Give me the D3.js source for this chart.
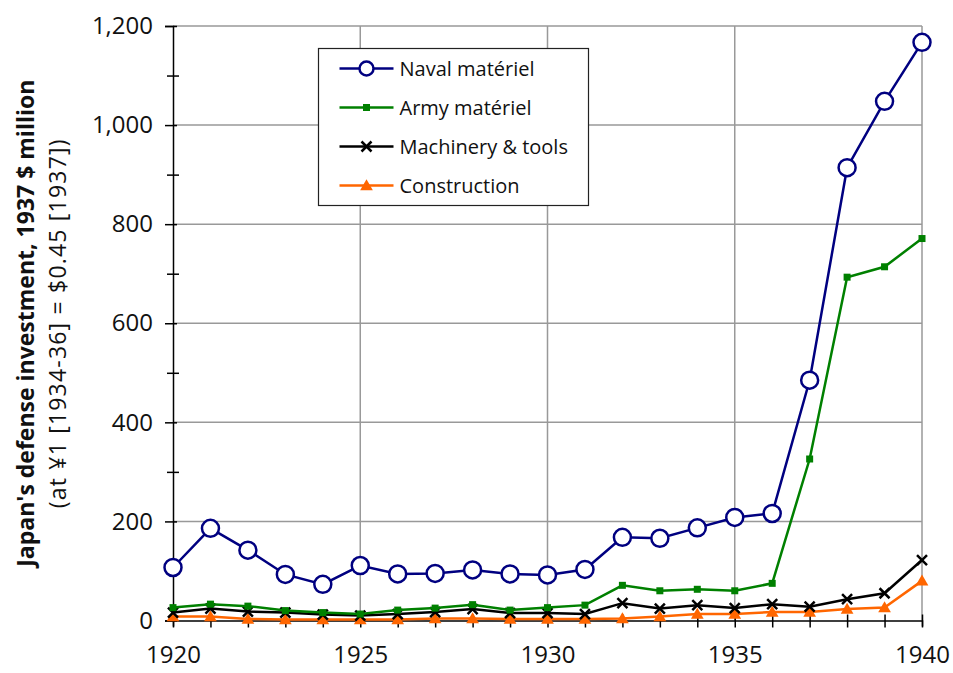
<!DOCTYPE html>
<html>
<head>
<meta charset="utf-8">
<script src="https://cdn.jsdelivr.net/npm/d3@7"></script>
<style>
  body { margin: 0; background: #fff; }
  svg text { font-family: "Open Sans", "Lato", sans-serif; fill: #111; }
</style>
</head>
<body>
<div id="chart"></div>
<script>
/* CONSTANTS AND GLOBALS */
const width = 953,
  height = 673,
  margin = { top: 26, bottom: 52, left: 173, right: 31 };

// years on the x axis
const years = d3.range(1920, 1941);
const xTicks = [1920, 1925, 1930, 1935, 1940];
const yTicks = [0, 200, 400, 600, 800, 1000, 1200];

// values, 1937 $ million
const naval = [107, 186, 142, 93, 73, 111, 94, 95, 102, 94, 92, 103, 168, 166, 187, 208, 216, 485, 914, 1048, 1167];
const army = [26, 33, 29, 20, 16, 13, 21, 25, 32, 21, 26, 31, 71, 60, 63, 60, 75, 326, 693, 714, 771];
const machinery = [16, 24, 18, 16, 12, 10, 13, 17, 23, 15, 15, 13, 35, 24, 31, 25, 33, 28, 43, 55, 122];
const construction = [8, 8, 3, 2, 2, 2, 2, 4, 4, 3, 3, 3, 4, 8, 13, 13, 17, 17, 23, 26, 80];

const seriesNames = ["Naval matériel", "Army matériel", "Machinery & tools", "Construction"];
const seriesColors = ["#000080", "#008000", "#000000", "#ff6600"];
const seriesMarks = ["circle", "square", "cross", "triangle"];
const seriesValues = [naval, army, machinery, construction];

const series = seriesNames.map((name, i) => ({
  name: name,
  color: seriesColors[i],
  mark: seriesMarks[i],
  values: years.map((y, j) => ({ year: y, value: seriesValues[i][j] }))
}));

const svg = d3.select("#chart")
  .append("svg")
  .attr("width", width)
  .attr("height", height);

// + SCALES
const xScale = d3.scaleLinear()
  .domain([1920, 1940])
  .range([margin.left, width - margin.right]);

const yScale = d3.scaleLinear()
  .domain([0, 1200])
  .range([height - margin.bottom - 0.5, margin.top]);

// + GRIDLINES
svg.append("g")
  .selectAll("line")
  .data(yTicks.filter(d => d > 0))
  .join("line")
  .attr("x1", xScale(1920))
  .attr("x2", xScale(1940))
  .attr("y1", d => yScale(d))
  .attr("y2", d => yScale(d))
  .attr("stroke", "#999")
  .attr("stroke-width", 1.5);

svg.append("g")
  .selectAll("line")
  .data(xTicks.filter(d => d > 1920))
  .join("line")
  .attr("x1", d => xScale(d))
  .attr("x2", d => xScale(d))
  .attr("y1", yScale(0))
  .attr("y2", yScale(1200))
  .attr("stroke", "#999")
  .attr("stroke-width", 1.5);

// + AXES
// minor ticks crossing the axis
const yMinor = d3.axisLeft(yScale)
  .tickValues(d3.range(100, 1200, 200))
  .tickSize(6)
  .tickFormat("");
const yMinorG = svg.append("g")
  .attr("transform", `translate(${xScale(1920)}, 0)`)
  .call(yMinor);
yMinorG.selectAll(".tick line").attr("x2", 6).attr("x1", -6);

const yAxis = d3.axisLeft(yScale)
  .tickValues(yTicks)
  .tickSize(8)
  .tickPadding(12)
  .tickFormat(d3.format(","));
const yAxisGroup = svg.append("g")
  .attr("transform", `translate(${xScale(1920)}, 0)`)
  .call(yAxis);
yAxisGroup.selectAll(".tick line").attr("x1", 4).attr("x2", -8);
yAxisGroup.selectAll("text")
  .attr("font-size", 24)
  .attr("font-family", "'Open Sans', sans-serif");

const xAxis = d3.axisBottom(xScale)
  .tickValues(years)
  .tickSize(6)
  .tickFormat(d => xTicks.includes(d) ? d : "");
const xAxisGroup = svg.append("g")
  .attr("transform", `translate(0, ${yScale(0)})`)
  .call(xAxis);
xAxisGroup.selectAll(".tick line").attr("y1", -6).attr("y2", 7);
xAxisGroup.selectAll("text")
  .attr("font-size", 24)
  .attr("font-family", "'Open Sans', sans-serif")
  .attr("dy", "1.4em");

svg.selectAll(".domain").attr("stroke", "#000").attr("stroke-width", 1.5);
svg.selectAll(".tick line").attr("stroke", "#000").attr("stroke-width", 1.5);
yMinorG.select(".domain").remove();

// + AXIS TITLE
const midY = (yScale(0) + yScale(1200)) / 2;
svg.append("text")
  .attr("transform", `translate(34, ${midY}) rotate(-90)`)
  .attr("text-anchor", "middle")
  .attr("font-size", 23)
  .attr("font-weight", "bold")
  .text("Japan's defense investment, 1937 $ million");
svg.append("text")
  .attr("transform", `translate(66, ${midY}) rotate(-90)`)
  .attr("text-anchor", "middle")
  .attr("font-size", 23)
  .attr("letter-spacing", 1.2)
  .text("(at ¥1 [1934-36] = $0.45 [1937])");

// + MARKERS
function drawMark(sel, mark, color) {
  if (mark === "circle") {
    sel.append("circle").attr("r", 8.5)
      .attr("fill", "#fff").attr("stroke", color).attr("stroke-width", 2.5);
  } else if (mark === "square") {
    sel.append("rect").attr("x", -3.5).attr("y", -3.5)
      .attr("width", 7).attr("height", 7).attr("fill", color);
  } else if (mark === "cross") {
    sel.append("path").attr("d", "M-5,-5L5,5M-5,5L5,-5")
      .attr("stroke", color).attr("stroke-width", 2.5).attr("fill", "none");
  } else {
    sel.append("path").attr("d", d3.symbol(d3.symbolTriangle, 70)())
      .attr("transform", "translate(0,1)")
      .attr("fill", color);
  }
}

// + LINES
const lineGen = d3.line()
  .x(d => xScale(d.year))
  .y(d => yScale(d.value));

// draw from back to front: construction first, naval last
series.slice().reverse().forEach(s => {
  const g = svg.append("g");
  g.append("path")
    .datum(s.values)
    .attr("fill", "none")
    .attr("stroke", s.color)
    .attr("stroke-width", 2.5)
    .attr("d", lineGen);
  g.selectAll(".pt")
    .data(s.values)
    .join("g")
    .attr("class", "pt")
    .attr("transform", d => `translate(${xScale(d.year)}, ${yScale(d.value)})`)
    .each(function () { drawMark(d3.select(this), s.mark, s.color); });
});

// + LEGEND
const legend = svg.append("g").attr("transform", "translate(318.5, 48.5)");
legend.append("rect")
  .attr("width", 270)
  .attr("height", 157)
  .attr("fill", "#fff")
  .attr("stroke", "#222")
  .attr("stroke-width", 1.2);

const rows = legend.selectAll(".row")
  .data(series)
  .join("g")
  .attr("class", "row")
  .attr("transform", (d, i) => `translate(0, ${20 + i * 39})`);
rows.append("line")
  .attr("x1", 21).attr("x2", 75)
  .attr("stroke", d => d.color)
  .attr("stroke-width", 2.5);
rows.each(function (d) {
  const m = d3.select(this).append("g").attr("transform", "translate(48, 0)");
  drawMark(m, d.mark, d.color);
});
rows.select("circle").attr("r", 7);
rows.append("text")
  .attr("x", 81)
  .attr("dy", "0.35em")
  .attr("font-size", 20)
  .text(d => d.name);
</script>
</body>
</html>
